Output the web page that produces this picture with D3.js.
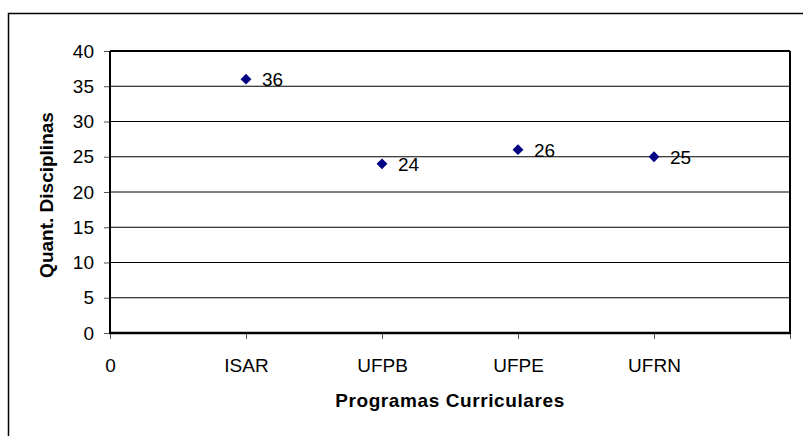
<!DOCTYPE html>
<html><head><meta charset="utf-8">
<script src="https://cdn.jsdelivr.net/npm/d3@7"></script>
<style>body{margin:0;background:#fff}svg{display:block}</style>
</head><body>
<script>
const categories = ["ISAR", "UFPB", "UFPE", "UFRN"];
const values = [36, 24, 26, 25];
const xTickLabels = ["0", "ISAR", "UFPB", "UFPE", "UFRN", ""];
const yTicks = [0, 5, 10, 15, 20, 25, 30, 35, 40];
const yTitle = "Quant. Disciplinas";
const xTitle = "Programas Curriculares";

const W = 803, H = 436;
const m = {left: 110, top: 51, right: 13, bottom: 103};
const svg = d3.select("body").append("svg").attr("width", W).attr("height", H);
const font = "'Liberation Sans', Arial, sans-serif";
const fs = 19;

// outer border
svg.append("rect").attr("x", 8.5).attr("y", 13.5).attr("width", 820).attr("height", 440)
  .attr("fill", "none").attr("stroke", "#000").attr("stroke-width", 1.5);

const x = d3.scaleLinear().domain([0, 5]).range([m.left, W - m.right]);
const y = d3.scaleLinear().domain([0, 40]).range([H - m.bottom, m.top]);

// gridlines
svg.append("g").selectAll("line").data(yTicks.filter(t => t > 0 && t < 40)).join("line")
  .attr("x1", x(0)).attr("x2", x(5)).attr("y1", d => y(d)).attr("y2", d => y(d))
  .attr("stroke", "#000").attr("stroke-width", 1);

// y axis
const ya = svg.append("g").attr("transform", `translate(${x(0)},0)`)
  .call(d3.axisLeft(y).tickValues(yTicks).tickSize(6).tickPadding(10));
ya.select(".domain").remove();
ya.selectAll(".tick line").attr("stroke", "#555");
ya.selectAll("text").attr("font-family", font).attr("font-size", fs).attr("fill", "#000");

// x axis
const xa = svg.append("g").attr("transform", `translate(0,${y(0)})`)
  .call(d3.axisBottom(x).tickValues(d3.range(6)).tickFormat(i => xTickLabels[i]).tickSize(6).tickPadding(20));
xa.select(".domain").remove();
xa.selectAll(".tick line").attr("stroke", "#555");
xa.selectAll("text").attr("font-family", font).attr("font-size", fs).attr("fill", "#000");

// plot border
svg.append("line").attr("x1", x(0)).attr("x2", x(5)).attr("y1", y(40)).attr("y2", y(40)).attr("stroke", "#000").attr("stroke-width", 2);
svg.append("line").attr("x1", x(5)).attr("x2", x(5)).attr("y1", y(40)).attr("y2", y(0)).attr("stroke", "#000").attr("stroke-width", 2);
svg.append("line").attr("x1", x(0)).attr("x2", x(0)).attr("y1", y(40)).attr("y2", y(0)).attr("stroke", "#000").attr("stroke-width", 2);
svg.append("line").attr("x1", x(0) - 1).attr("x2", x(5) + 1).attr("y1", y(0)).attr("y2", y(0)).attr("stroke", "#000").attr("stroke-width", 2.5);

// points
const pts = categories.map((c, i) => ({c, v: values[i], xi: i + 1}));
svg.append("g").selectAll("path").data(pts).join("path")
  .attr("transform", d => `translate(${x(d.xi)},${y(d.v)})`)
  .attr("d", d3.symbol(d3.symbolDiamond2, 75)())
  .attr("fill", "#000080");
svg.append("g").selectAll("text").data(pts).join("text")
  .attr("x", d => x(d.xi) + 16).attr("y", d => y(d.v)).attr("dy", "0.36em")
  .attr("font-family", font).attr("font-size", fs).text(d => d.v);

// titles
svg.append("text").attr("transform", `translate(53,${(y(0) + y(40)) / 2 + 3}) rotate(-90)`)
  .attr("text-anchor", "middle").attr("font-family", font).attr("font-size", fs).attr("font-weight", "bold").text(yTitle);
svg.append("text").attr("x", (x(0) + x(5)) / 2).attr("y", 407)
  .attr("text-anchor", "middle").attr("font-family", font).attr("font-size", fs).attr("font-weight", "bold")
  .attr("letter-spacing", 0.6).text(xTitle);
</script>
</body></html>
